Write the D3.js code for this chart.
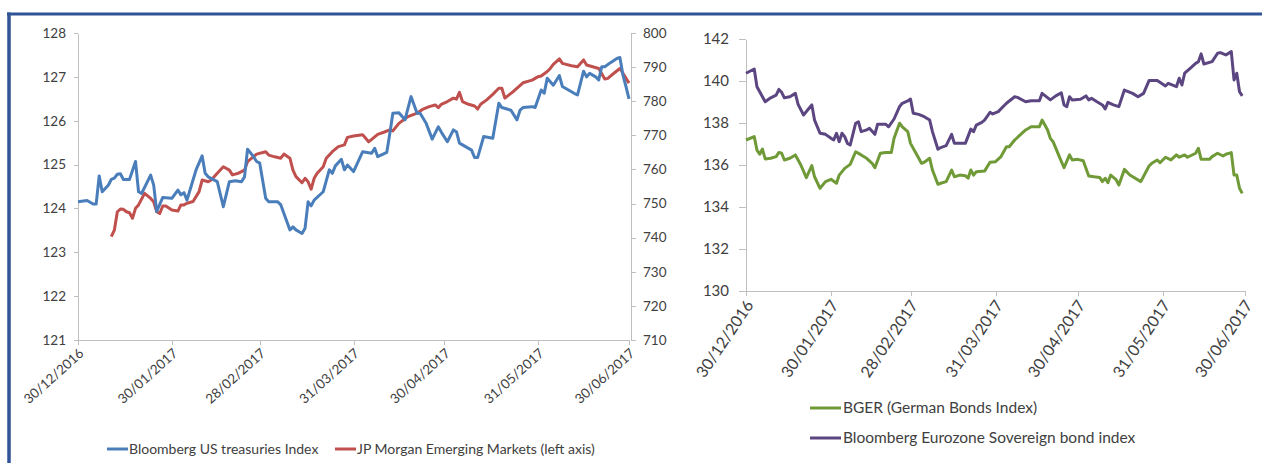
<!DOCTYPE html>
<meta charset="utf-8">
<head>
<style>
body { margin: 0; background: #fff; }
text { font-family: Lato, "Open Sans", sans-serif; fill: #404040; }
.axis path, .axis line { fill: none; stroke: #bfbfbf; shape-rendering: crispEdges; }
.axis text { fill: #404040; }
</style>
</head>
<body>
<script src="https://d3js.org/d3.v7.min.js"></script>
<script>
//Tick labels
var dateTicks = ["2016-12-30", "2017-01-30", "2017-02-28", "2017-03-31", "2017-04-30", "2017-05-31", "2017-06-30"];
var leftTicks = [121, 122, 123, 124, 125, 126, 127, 128];
var rightTicks = [710, 720, 730, 740, 750, 760, 770, 780, 790, 800];
var euroTicks = [130, 132, 134, 136, 138, 140, 142];

//Series names
var leftNames = ["Bloomberg US treasuries Index", "JP Morgan Emerging Markets (left axis)"];
var rightNames = ["BGER (German Bonds Index)", "Bloomberg Eurozone Sovereign bond index"];

//Bloomberg US treasuries (left axis)
var usTreasuries = [
  ["2016-12-30",124.15],["2017-01-02",124.18],["2017-01-04",124.10],["2017-01-05",124.10],["2017-01-06",124.74],
  ["2017-01-07",124.38],["2017-01-09",124.53],["2017-01-10",124.66],["2017-01-11",124.69],["2017-01-12",124.78],
  ["2017-01-13",124.79],["2017-01-14",124.66],["2017-01-16",124.66],["2017-01-18",125.07],["2017-01-19",124.38],
  ["2017-01-20",124.34],["2017-01-23",124.76],["2017-01-24",124.53],["2017-01-25",123.93],["2017-01-27",124.25],
  ["2017-01-30",124.23],["2017-02-01",124.42],["2017-02-02",124.31],["2017-02-03",124.36],["2017-02-04",124.19],
  ["2017-02-05",124.42],["2017-02-07",124.88],["2017-02-09",125.20],["2017-02-10",124.80],["2017-02-11",124.72],
  ["2017-02-14",124.61],["2017-02-16",124.04],["2017-02-18",124.61],["2017-02-20",124.63],["2017-02-22",124.61],
  ["2017-02-23",124.72],["2017-02-24",125.35],["2017-02-26",125.18],["2017-02-27",125.07],["2017-02-28",125.04],
  ["2017-03-02",124.23],["2017-03-03",124.15],["2017-03-06",124.15],["2017-03-07",124.08],["2017-03-10",123.51],
  ["2017-03-11",123.58],["2017-03-12",123.51],["2017-03-14",123.43],["2017-03-15",123.55],["2017-03-16",124.15],
  ["2017-03-17",124.06],["2017-03-18",124.19],["2017-03-21",124.38],["2017-03-23",124.88],["2017-03-24",124.80],
  ["2017-03-25",124.97],["2017-03-27",125.12],["2017-03-28",124.88],["2017-03-29",124.99],["2017-03-31",124.84],
  ["2017-04-01",124.99],["2017-04-03",125.29],["2017-04-06",125.26],["2017-04-07",125.37],["2017-04-08",125.18],
  ["2017-04-11",125.28],["2017-04-12",125.71],["2017-04-13",126.17],["2017-04-15",126.18],["2017-04-17",126.02],
  ["2017-04-19",126.55],["2017-04-21",126.17],["2017-04-22",126.17],["2017-04-24",125.94],["2017-04-26",125.58],
  ["2017-04-28",125.86],["2017-04-29",125.74],["2017-05-01",125.52],["2017-05-03",125.79],["2017-05-04",125.75],
  ["2017-05-05",125.49],["2017-05-06",125.45],["2017-05-09",125.33],["2017-05-10",125.16],["2017-05-11",125.16],
  ["2017-05-13",125.64],["2017-05-16",125.60],["2017-05-18",126.40],["2017-05-19",126.30],["2017-05-22",126.24],
  ["2017-05-24",126.02],["2017-05-25",126.24],["2017-05-26",126.30],["2017-05-29",126.32],["2017-05-30",126.30],
  ["2017-06-01",126.70],["2017-06-02",126.63],["2017-06-03",126.97],["2017-06-05",126.81],["2017-06-07",127.03],
  ["2017-06-08",126.78],["2017-06-10",126.70],["2017-06-12",126.62],["2017-06-13",126.59],["2017-06-15",127.13],
  ["2017-06-16",127.00],["2017-06-17",127.08],["2017-06-19",127.00],["2017-06-20",126.93],["2017-06-21",127.23],
  ["2017-06-22",127.23],["2017-06-24",127.33],["2017-06-26",127.42],["2017-06-27",127.44],["2017-06-28",127.04],
  ["2017-06-29",126.78],["2017-06-30",126.50]
];

//JP Morgan Emerging Markets (right hand scale)
var jpmEmerging = [
  ["2017-01-10",740.3],["2017-01-11",742.2],["2017-01-12",747.6],["2017-01-13",748.4],["2017-01-14",748.3],
  ["2017-01-15",747.6],["2017-01-16",747.3],["2017-01-17",745.7],["2017-01-18",748.6],["2017-01-19",749.6],
  ["2017-01-21",753.0],["2017-01-23",751.5],["2017-01-24",750.5],["2017-01-25",747.6],["2017-01-26",747.1],
  ["2017-01-27",749.3],["2017-01-28",749.3],["2017-01-30",748.1],["2017-02-01",747.8],["2017-02-02",749.6],
  ["2017-02-03",749.6],["2017-02-04",750.1],["2017-02-06",750.6],["2017-02-08",753.5],["2017-02-09",756.9],
  ["2017-02-11",756.4],["2017-02-12",756.9],["2017-02-14",758.9],["2017-02-16",760.8],["2017-02-18",759.8],
  ["2017-02-19",758.4],["2017-02-21",758.9],["2017-02-23",759.8],["2017-02-24",762.3],["2017-02-27",764.5],
  ["2017-03-02",765.2],["2017-03-03",764.2],["2017-03-05",763.7],["2017-03-07",763.3],["2017-03-08",764.5],
  ["2017-03-10",763.3],["2017-03-11",759.8],["2017-03-12",757.9],["2017-03-14",756.1],["2017-03-15",757.4],
  ["2017-03-16",756.4],["2017-03-17",754.2],["2017-03-18",757.4],["2017-03-19",758.9],["2017-03-21",760.8],
  ["2017-03-22",763.3],["2017-03-24",765.2],["2017-03-26",766.7],["2017-03-28",767.2],["2017-03-29",769.4],
  ["2017-03-31",769.8],["2017-04-03",770.2],["2017-04-05",768.1],["2017-04-06",768.8],["2017-04-08",770.3],
  ["2017-04-10",770.9],["2017-04-12",771.6],["2017-04-13",771.3],["2017-04-15",773.5],["2017-04-18",775.5],
  ["2017-04-21",776.5],["2017-04-23",777.7],["2017-04-25",778.4],["2017-04-27",778.9],["2017-04-28",778.1],
  ["2017-04-29",779.1],["2017-05-01",779.9],["2017-05-03",780.9],["2017-05-04",780.6],["2017-05-05",782.6],
  ["2017-05-06",779.9],["2017-05-08",779.1],["2017-05-10",778.6],["2017-05-11",777.7],["2017-05-12",779.1],
  ["2017-05-14",780.4],["2017-05-16",782.0],["2017-05-18",783.8],["2017-05-19",783.8],["2017-05-20",780.9],
  ["2017-05-22",782.3],["2017-05-23",783.0],["2017-05-26",785.4],["2017-05-29",786.2],["2017-05-31",787.2],
  ["2017-06-01",787.4],["2017-06-03",788.7],["2017-06-04",789.6],["2017-06-05",790.8],["2017-06-07",792.4],
  ["2017-06-08",791.1],["2017-06-11",790.4],["2017-06-13",790.1],["2017-06-15",792.1],["2017-06-16",790.6],
  ["2017-06-18",790.1],["2017-06-20",789.6],["2017-06-22",786.5],["2017-06-23",786.7],["2017-06-25",788.2],
  ["2017-06-27",789.6],["2017-06-28",788.2],["2017-06-30",785.3]
];

//BGER German bonds index
var bgerIndex = [
  ["2016-12-30",137.19],["2017-01-02",137.35],["2017-01-03",136.71],["2017-01-04",136.51],["2017-01-05",136.76],
  ["2017-01-06",136.29],["2017-01-08",136.32],["2017-01-10",136.40],["2017-01-11",136.60],["2017-01-12",136.56],
  ["2017-01-13",136.24],["2017-01-15",136.32],["2017-01-17",136.48],["2017-01-19",136.00],["2017-01-21",135.40],
  ["2017-01-23",135.97],["2017-01-24",135.44],["2017-01-26",134.89],["2017-01-28",135.21],["2017-01-30",135.32],
  ["2017-02-01",135.13],["2017-02-02",135.52],["2017-02-04",135.84],["2017-02-06",136.03],["2017-02-08",136.63],
  ["2017-02-10",136.48],["2017-02-12",136.32],["2017-02-14",136.08],["2017-02-15",135.87],["2017-02-17",136.56],
  ["2017-02-19",136.60],["2017-02-21",136.60],["2017-02-22",137.27],["2017-02-24",137.99],["2017-02-25",137.82],
  ["2017-02-27",137.59],["2017-02-28",137.03],["2017-03-02",136.56],["2017-03-04",136.08],["2017-03-05",136.13],
  ["2017-03-07",136.32],["2017-03-08",135.76],["2017-03-10",135.08],["2017-03-11",135.13],["2017-03-13",135.21],
  ["2017-03-15",135.76],["2017-03-16",135.44],["2017-03-18",135.52],["2017-03-20",135.49],["2017-03-21",135.37],
  ["2017-03-22",135.76],["2017-03-23",135.52],["2017-03-24",135.68],["2017-03-27",135.71],["2017-03-29",136.13],
  ["2017-03-31",136.16],["2017-04-02",136.40],["2017-04-04",136.87],["2017-04-05",136.87],["2017-04-07",137.19],
  ["2017-04-09",137.43],["2017-04-11",137.67],["2017-04-13",137.82],["2017-04-16",137.82],["2017-04-17",138.14],
  ["2017-04-19",137.67],["2017-04-20",137.27],["2017-04-21",137.11],["2017-04-23",136.48],["2017-04-25",135.87],
  ["2017-04-27",136.48],["2017-04-28",136.24],["2017-04-30",136.27],["2017-05-02",136.20],["2017-05-04",135.48],
  ["2017-05-06",135.44],["2017-05-08",135.41],["2017-05-09",135.21],["2017-05-10",135.37],["2017-05-11",135.16],
  ["2017-05-12",135.52],["2017-05-14",135.30],["2017-05-15",135.05],["2017-05-17",135.79],["2017-05-19",135.52],
  ["2017-05-23",135.21],["2017-05-26",135.95],["2017-05-27",136.08],["2017-05-29",136.24],["2017-05-30",136.11],
  ["2017-06-01",136.37],["2017-06-03",136.24],["2017-06-05",136.48],["2017-06-06",136.37],["2017-06-08",136.48],
  ["2017-06-09",136.37],["2017-06-12",136.56],["2017-06-13",136.80],["2017-06-14",136.27],["2017-06-17",136.27],
  ["2017-06-18",136.40],["2017-06-20",136.56],["2017-06-22",136.43],["2017-06-23",136.51],["2017-06-25",136.59],
  ["2017-06-26",135.52],["2017-06-27",135.52],["2017-06-28",134.89],["2017-06-29",134.65]
];

//Bloomberg Eurozone sovereign bond index
var euroSovereign = [
  ["2016-12-30",140.37],["2017-01-02",140.57],["2017-01-03",139.73],["2017-01-04",139.49],["2017-01-06",139.01],
  ["2017-01-08",139.20],["2017-01-10",139.33],["2017-01-11",139.60],["2017-01-12",139.46],["2017-01-13",139.20],
  ["2017-01-15",139.25],["2017-01-17",139.41],["2017-01-18",138.89],["2017-01-20",138.38],["2017-01-22",138.70],
  ["2017-01-23",138.86],["2017-01-24",138.14],["2017-01-26",137.51],["2017-01-28",137.46],["2017-01-30",137.27],
  ["2017-01-31",137.19],["2017-02-01",137.51],["2017-02-02",137.11],["2017-02-03",137.51],["2017-02-04",137.35],
  ["2017-02-05",137.03],["2017-02-06",136.95],["2017-02-08",137.99],["2017-02-09",138.06],["2017-02-10",137.59],
  ["2017-02-12",137.67],["2017-02-13",137.75],["2017-02-15",137.46],["2017-02-16",137.94],["2017-02-19",137.94],
  ["2017-02-20",137.82],["2017-02-22",138.19],["2017-02-24",138.78],["2017-02-25",138.94],["2017-02-27",139.05],
  ["2017-02-28",139.14],["2017-03-01",138.46],["2017-03-03",138.41],["2017-03-05",138.30],["2017-03-07",138.14],
  ["2017-03-08",137.59],["2017-03-10",136.75],["2017-03-11",136.83],["2017-03-13",136.92],["2017-03-15",137.46],
  ["2017-03-16",137.03],["2017-03-18",137.03],["2017-03-20",137.03],["2017-03-22",137.71],["2017-03-23",137.59],
  ["2017-03-24",137.90],["2017-03-26",138.03],["2017-03-27",138.14],["2017-03-29",138.51],["2017-03-30",138.43],
  ["2017-04-01",138.54],["2017-04-03",138.81],["2017-04-04",138.94],["2017-04-07",139.25],["2017-04-08",139.22],
  ["2017-04-11",139.01],["2017-04-13",139.06],["2017-04-16",139.06],["2017-04-17",139.41],["2017-04-20",139.10],
  ["2017-04-22",139.29],["2017-04-24",139.44],["2017-04-25",138.86],["2017-04-26",138.78],["2017-04-27",139.25],
  ["2017-04-28",139.10],["2017-05-01",139.13],["2017-05-03",139.29],["2017-05-04",139.10],["2017-05-05",139.18],
  ["2017-05-07",139.01],["2017-05-09",138.86],["2017-05-10",138.67],["2017-05-11",138.98],["2017-05-13",138.86],
  ["2017-05-15",138.78],["2017-05-17",139.57],["2017-05-20",139.41],["2017-05-22",139.25],["2017-05-24",139.41],
  ["2017-05-26",140.02],["2017-05-29",140.02],["2017-06-01",139.76],["2017-06-02",139.89],["2017-06-05",139.73],
  ["2017-06-06",140.13],["2017-06-07",139.81],["2017-06-08",140.37],["2017-06-10",140.60],["2017-06-12",140.84],
  ["2017-06-13",140.92],["2017-06-14",141.29],["2017-06-15",140.81],["2017-06-18",140.92],["2017-06-20",141.32],
  ["2017-06-21",141.35],["2017-06-23",141.24],["2017-06-25",141.40],["2017-06-26",140.05],["2017-06-27",140.37],
  ["2017-06-28",139.49],["2017-06-29",139.29]
];

var parseDate = d3.timeParse("%Y-%m-%d");
var fmtDate = d3.timeFormat("%d/%m/%Y");
var tickDates = dateTicks.map(parseDate);
var dateDomain = [tickDates[0], tickDates[tickDates.length - 1]];

var svg = d3.select("body").append("svg")
    .attr("width", 1262)
    .attr("height", 463);

//Frame
svg.append("line").attr("x1", 7).attr("x2", 1262).attr("y1", 14).attr("y2", 14)
    .style("stroke", "#2f5597").style("stroke-width", 3);
svg.append("line").attr("x1", 9).attr("x2", 9).attr("y1", 12.5).attr("y2", 463)
    .style("stroke", "#2f5597").style("stroke-width", 3.5);

//Shared helpers
function rotateDates(g, fontSize, angle, dx, dy) {
    g.selectAll("text")
        .style("font-size", fontSize + "px")
        .style("text-anchor", "end")
        .attr("x", 0)
        .attr("y", 0)
        .attr("dy", "0.35em")
        .attr("transform", "translate(" + dx + "," + dy + ") rotate(" + angle + ")");
}

function drawLine(g, data, x, y, color) {
    var line = d3.line()
        .x(function(d) { return x(parseDate(d[0])); })
        .y(function(d) { return y(d[1]); });
    g.append("path")
        .datum(data)
        .attr("d", line)
        .style("fill", "none")
        .style("stroke", color)
        .style("stroke-width", 3)
        .style("stroke-linejoin", "round");
}

// ---------- Left chart ----------
var xL = d3.scaleTime().domain(dateDomain).range([78, 629]);
var yL = d3.scaleLinear().domain([121, 128]).range([340, 33]);
var yR = d3.scaleLinear().domain([710, 800]).range([340, 33]);

svg.append("g")
    .attr("class", "axis")
    .attr("transform", "translate(0,340)")
    .call(d3.axisBottom(xL).tickValues(tickDates).tickFormat(fmtDate).tickSize(5).tickSizeOuter(0))
    .call(rotateDates, 13.5, -42, 3, 11);

svg.append("g")
    .attr("class", "axis")
    .attr("transform", "translate(78,0)")
    .call(d3.axisLeft(yL).tickValues(leftTicks).tickFormat(d3.format("d")).tickSize(4).tickPadding(8).tickSizeOuter(0))
    .selectAll("text").style("font-size", "13.5px");

svg.append("g")
    .attr("class", "axis")
    .attr("transform", "translate(631,0)")
    .call(d3.axisRight(yR).tickValues(rightTicks).tickSize(5).tickPadding(7).tickSizeOuter(0))
    .selectAll("text").style("font-size", "13.5px");

var gl = svg.append("g");
drawLine(gl, jpmEmerging, xL, yR, "#c0504d");
drawLine(gl, usTreasuries, xL, yL, "#4a7ebb");

//Left legend
var legL = svg.append("g").attr("transform", "translate(0,449)");
var legLItems = [[leftNames[0], "#4a7ebb", 107], [leftNames[1], "#c0504d", 335]];
legLItems.forEach(function(it) {
    legL.append("line").attr("x1", it[2]).attr("x2", it[2] + 21).attr("y1", 0).attr("y2", 0)
        .style("stroke", it[1]).style("stroke-width", 3);
    legL.append("text").attr("x", it[2] + 22).attr("y", 0).attr("dy", "0.35em")
        .style("font-size", "14px").text(it[0]);
});

// ---------- Right chart ----------
var x2 = d3.scaleTime().domain(dateDomain).range([746, 1245]);
var y2 = d3.scaleLinear().domain([130, 142]).range([291, 39]);

svg.append("g")
    .attr("class", "axis")
    .attr("transform", "translate(0,291)")
    .call(d3.axisBottom(x2).tickValues(tickDates).tickFormat(fmtDate).tickSize(5).tickSizeOuter(0))
    .call(rotateDates, 16, -56, 3, 11);

svg.append("g")
    .attr("class", "axis")
    .attr("transform", "translate(746,0)")
    .call(d3.axisLeft(y2).tickValues(euroTicks).tickSize(7).tickPadding(10).tickSizeOuter(0))
    .selectAll("text").style("font-size", "15px");

var gr = svg.append("g");
drawLine(gr, bgerIndex, x2, y2, "#6f9a37");
drawLine(gr, euroSovereign, x2, y2, "#5b4681");

//Right legend
var legR = svg.append("g");
var legRItems = [[rightNames[0], "#6f9a37", 408], [rightNames[1], "#5b4681", 438]];
legRItems.forEach(function(it) {
    legR.append("line").attr("x1", 810).attr("x2", 841).attr("y1", it[2]).attr("y2", it[2])
        .style("stroke", it[1]).style("stroke-width", 3);
    legR.append("text").attr("x", 843).attr("y", it[2]).attr("dy", "0.35em")
        .style("font-size", "15.5px").text(it[0]);
});
</script>
</body>
